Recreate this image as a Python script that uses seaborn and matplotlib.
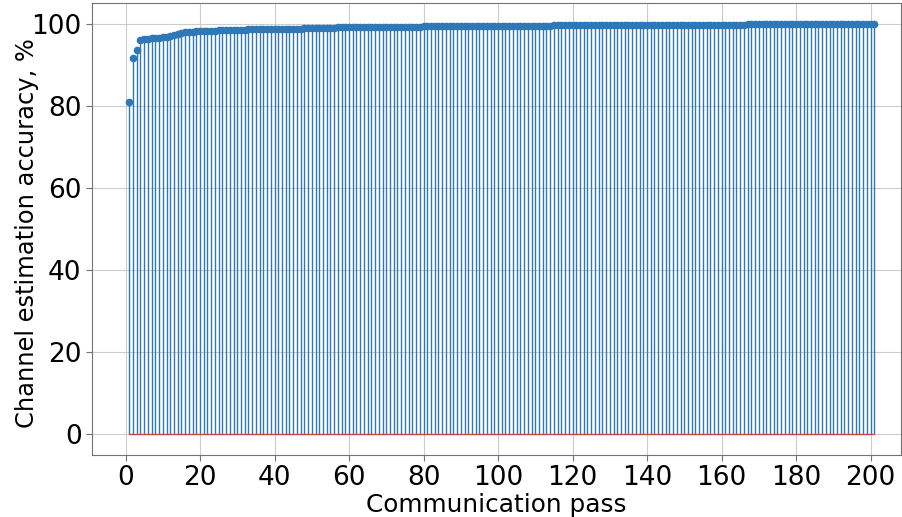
import numpy as np
import matplotlib
matplotlib.use("Agg")
import matplotlib.pyplot as plt
import seaborn as sns

# accuracy per communication pass
passes = np.arange(1, 202)
accuracy = [
    81.0, 91.7, 93.6, 96.1, 96.2, 96.3, 96.4, 96.5, 96.6, 96.7,
    96.8, 97.0, 97.3, 97.5, 97.7, 97.9, 98.0, 98.0, 98.1, 98.1,
    98.2, 98.2, 98.3, 98.3, 98.4, 98.4, 98.5, 98.5, 98.5, 98.5,
    98.5, 98.5, 98.6, 98.6, 98.6, 98.6, 98.6, 98.6, 98.7, 98.7,
    98.7, 98.7, 98.8, 98.8, 98.8, 98.8, 98.8, 98.9, 98.9, 98.9,
    98.9, 98.9, 99.0, 99.0, 99.0, 99.0, 99.1, 99.1, 99.1, 99.1,
    99.1, 99.1, 99.1, 99.1, 99.1, 99.1, 99.2, 99.2, 99.2, 99.2,
    99.2, 99.2, 99.2, 99.3, 99.3, 99.3, 99.3, 99.3, 99.3, 99.4,
    99.4, 99.4, 99.4, 99.4, 99.4, 99.4, 99.4, 99.4, 99.4, 99.4,
    99.4, 99.4, 99.4, 99.4, 99.4, 99.4, 99.4, 99.5, 99.5, 99.5,
    99.5, 99.5, 99.5, 99.5, 99.5, 99.5, 99.5, 99.5, 99.5, 99.5,
    99.5, 99.5, 99.5, 99.5, 99.6, 99.6, 99.6, 99.6, 99.6, 99.6,
    99.6, 99.6, 99.6, 99.6, 99.6, 99.6, 99.6, 99.7, 99.7, 99.7,
    99.7, 99.7, 99.7, 99.7, 99.7, 99.7, 99.7, 99.7, 99.7, 99.7,
    99.7, 99.7, 99.7, 99.7, 99.7, 99.7, 99.7, 99.7, 99.7, 99.7,
    99.7, 99.7, 99.7, 99.7, 99.7, 99.7, 99.7, 99.7, 99.7, 99.7,
    99.7, 99.7, 99.7, 99.7, 99.7, 99.7, 99.8, 99.8, 99.8, 99.8,
    99.8, 99.8, 99.8, 99.8, 99.8, 99.8, 99.8, 99.8, 99.8, 99.8,
    99.8, 99.8, 99.8, 99.8, 99.8, 99.8, 99.8, 99.8, 99.8, 99.8,
    99.8, 99.8, 99.9, 99.9, 99.9, 99.9, 99.9, 99.9, 99.9, 100.0,
    100.0,
]

sns.set_style("whitegrid", {"axes.edgecolor": "0.45", "grid.color": "0.8",
                            "xtick.bottom": True, "ytick.left": True,
                            "text.color": "black", "xtick.color": "black",
                            "ytick.color": "black", "axes.labelcolor": "black"})
plt.rcParams["font.family"] = ["DejaVu Sans"]

fig = plt.figure(figsize=(9.02, 5.17), dpi=100)
ax = fig.add_axes([0.102, 0.12, 0.897, 0.874])

markers, stems, base = ax.stem(passes, accuracy)
plt.setp(markers, color="#2f78b8", markersize=4.5)
plt.setp(stems, color="#2f78b8", linewidth=1.0)
plt.setp(base, color="#d0424a", linewidth=1.0)

ax.set_xlim(-9, 208.2)
ax.set_ylim(-5, 105)
ax.set_xticks(np.arange(0, 201, 20))
ax.set_yticks(np.arange(0, 101, 20))
ax.tick_params(labelsize=19, length=4, color="0.45")
ax.set_xlabel("Communication pass", fontsize=17.8, labelpad=1)
ax.set_ylabel("Channel estimation accuracy, %", fontsize=17.4)
ax.yaxis.set_label_coords(-0.066, 0.49)

fig.savefig("out.png", dpi=100)
